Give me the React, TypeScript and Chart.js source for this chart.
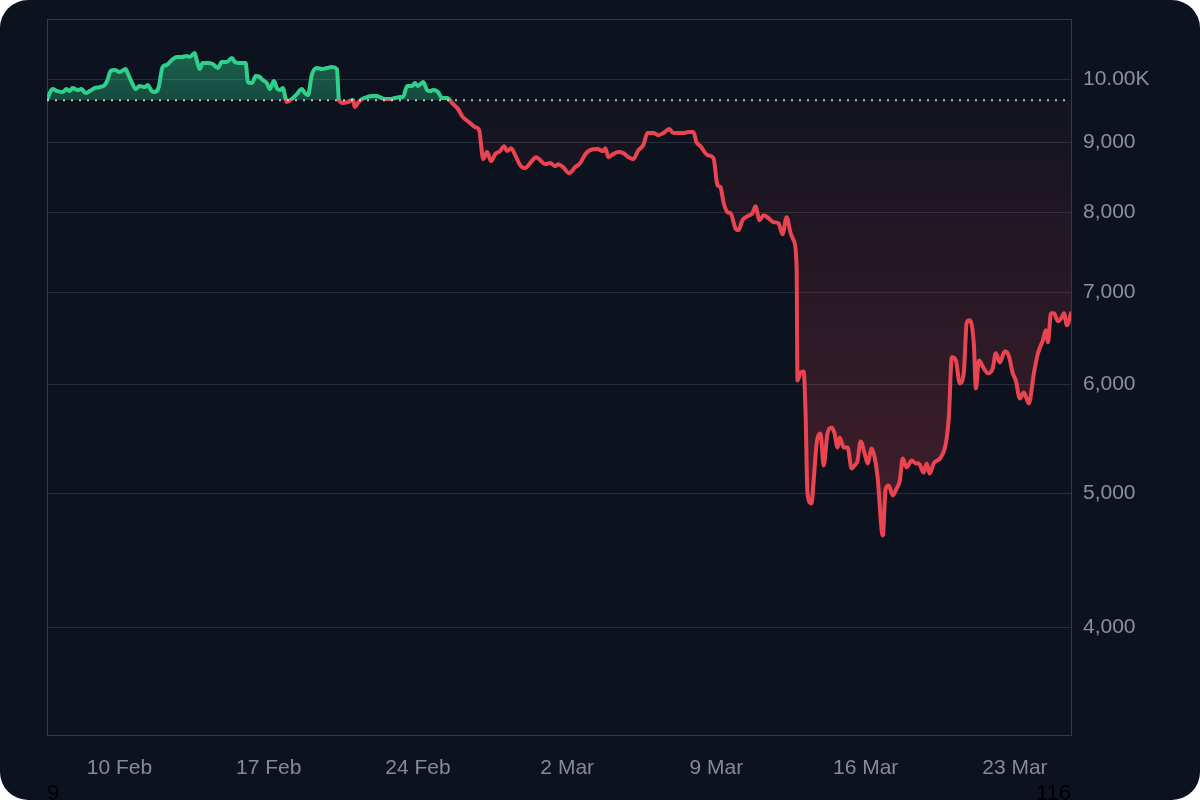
import { useEffect, useRef } from 'react';
import { Chart, registerables } from 'chart.js';

// Register Chart.js components
Chart.register(...registerables);

// time in days (day of February, 1 Mar = 30)
const times = [
  6.60, 6.86, 7.09, 7.33, 7.52, 7.66, 7.80, 8.03, 8.22, 8.41,
  8.60, 8.83, 9.07, 9.30, 9.44, 9.58, 9.77, 10.01, 10.29, 10.38,
  10.57, 10.76, 10.94, 11.18, 11.32, 11.51, 11.65, 11.84, 12.02, 12.21,
  12.45, 12.68, 12.92, 13.15, 13.29, 13.53, 13.62, 13.76, 13.90, 14.14,
  14.37, 14.61, 14.80, 15.03, 15.27, 15.41, 15.64, 15.92, 16.02, 16.21,
  16.39, 16.58, 16.72, 16.91, 17.05, 17.24, 17.38, 17.52, 17.66, 17.85,
  18.08, 18.32, 18.55, 18.70, 18.84, 19.02, 19.26, 19.49, 19.73, 19.96,
  20.20, 20.29, 20.48, 20.71, 20.95, 21.04, 21.18, 21.37, 21.61, 21.84,
  22.08, 22.22, 22.45, 22.69, 22.92, 23.16, 23.30, 23.49, 23.72, 23.86,
  24.00, 24.24, 24.43, 24.57, 24.71, 24.94, 25.13, 25.37, 25.60, 25.88,
  26.07, 26.26, 26.45, 26.68, 26.87, 27.06, 27.24, 27.43, 27.62, 27.85,
  28.04, 28.18, 28.37, 28.56, 28.79, 29.03, 29.26, 29.54, 29.73, 29.97,
  30.20, 30.44, 30.58, 30.81, 31.09, 31.38, 31.61, 31.85, 32.08, 32.41,
  32.69, 32.79, 32.93, 33.16, 33.40, 33.63, 33.87, 34.10, 34.34, 34.57,
  34.76, 35.04, 35.28, 35.51, 35.79, 35.98, 36.22, 36.45, 36.68, 36.92,
  37.06, 37.25, 37.58, 37.86, 38.05, 38.19, 38.33, 38.52, 38.66, 38.89,
  39.03, 39.22, 39.46, 39.69, 39.83, 40.02, 40.21, 40.44, 40.68, 40.91,
  41.10, 41.29, 41.48, 41.62, 41.76, 41.80, 41.95, 42.09, 42.18, 42.27,
  42.46, 42.56, 42.70, 42.88, 43.03, 43.21, 43.40, 43.54, 43.68, 43.78,
  43.97, 44.15, 44.34, 44.48, 44.62, 44.76, 44.95, 45.09, 45.28, 45.42,
  45.56, 45.80, 45.94, 46.08, 46.27, 46.45, 46.60, 46.74, 46.92, 47.16,
  47.35, 47.49, 47.72, 47.86, 48.00, 48.19, 48.52, 48.76, 48.90, 49.04,
  49.23, 49.41, 49.60, 49.74, 49.88, 50.07, 50.17, 50.31, 50.54, 50.73,
  50.96, 51.10, 51.29, 51.53, 51.72, 51.90, 52.04, 52.23, 52.42, 52.65,
  52.89, 53.08, 53.31, 53.45, 53.55, 53.69, 53.83, 54.02, 54.20, 54.30,
  54.44, 54.63,
];

const prices = [
  9666, 9834, 9801, 9785, 9834, 9801, 9851, 9817, 9834, 9768,
  9801, 9851, 9867, 9900, 9983, 10135, 10152, 10118, 10169, 10101,
  9950, 9834, 9884, 9867, 9900, 9801, 9785, 9867, 10203, 10237,
  10323, 10375, 10375, 10392, 10375, 10445, 10323, 10169, 10271, 10271,
  10254, 10186, 10289, 10289, 10358, 10289, 10271, 10271, 9950, 9933,
  10050, 10034, 9983, 9933, 9834, 9967, 9851, 9817, 9851, 9623,
  9671, 9752, 9834, 9768, 9736, 10067, 10186, 10169, 10186, 10203,
  10169, 9655, 9607, 9623, 9655, 9543, 9607, 9671, 9703, 9719,
  9719, 9703, 9671, 9671, 9687, 9703, 9703, 9884, 9884, 9933,
  9884, 9950, 9817, 9801, 9817, 9785, 9687, 9687, 9607, 9511,
  9400, 9337, 9290, 9228, 9182, 8747, 8850, 8718, 8820, 8865,
  8939, 8865, 8909, 8806, 8660, 8616, 8689, 8776, 8732, 8674,
  8689, 8645, 8674, 8631, 8544, 8631, 8689, 8820, 8880, 8895,
  8865, 8909, 8776, 8820, 8850, 8835, 8776, 8747, 8880, 8954,
  9136, 9136, 9105, 9136, 9197, 9136, 9136, 9136, 9151, 9151,
  8999, 8939, 8806, 8762, 8374, 8346, 8139, 8004, 7991, 7793,
  7767, 7898, 7951, 7991, 8085, 7898, 7964, 7924, 7872, 7858,
  7715, 7938, 7728, 7638, 7301, 6042, 6124, 6134, 5718, 5001,
  4918, 5111, 5438, 5530, 5241, 5530, 5585, 5530, 5401, 5493,
  5401, 5401, 5215, 5241, 5285, 5456, 5348, 5259, 5392, 5312,
  5137, 4662, 5043, 5069, 4985, 5043, 5111, 5303, 5224, 5285,
  5259, 5259, 5180, 5259, 5171, 5259, 5312, 5438, 5680, 6280,
  6248, 6012, 6114, 6658, 6681, 6428, 5962, 6248, 6165, 6114,
  6165, 6322, 6227, 6343, 6290, 6114, 6042, 5863, 5922, 5814,
  6114, 6322, 6461, 6570, 6439, 6759, 6759, 6670, 6714, 6759,
  6625, 6759,
];

const baseline = 9650;

const dayTicks = [10, 17, 24, 31, 38, 45, 52];
const dayLabels = ['10 Feb', '17 Feb', '24 Feb', '2 Mar', '9 Mar', '16 Mar', '23 Mar'];

const priceTicks = [4000, 5000, 6000, 7000, 8000, 9000, 10000];
const priceLabels = ['4,000', '5,000', '6,000', '7,000', '8,000', '9,000', '10.00K'];

const indexTicks = [9, 116];

const yMin = 3340;
const yMax = 11056;

const GREEN = '#2fcf8c';
const RED = '#ea4451';
const FONT = "'Liberation Sans', Arial, sans-serif";

// box around the plot area
const frame = {
  id: 'frame',
  beforeDatasetsDraw(chart: any) {
    const { ctx, chartArea: a } = chart;
    ctx.save();
    ctx.strokeStyle = '#333b47';
    ctx.lineWidth = 1;
    ctx.strokeRect(a.left + 0.5, a.top + 0.5, a.right - a.left, a.bottom - a.top);
    ctx.restore();
  },
};

export default function App() {
  const canvasRef = useRef<HTMLCanvasElement>(null);
  const chartRef = useRef<Chart | null>(null);

  useEffect(() => {
    document.body.style.margin = '0';
    document.body.style.background = '#ffffff';
    if (!canvasRef.current) return;
    if (chartRef.current) chartRef.current.destroy();

    const points = times.map((t, i) => ({ x: t, y: prices[i] }));
    const first = times[0];
    const last = times[times.length - 1];

    const chart = new Chart(canvasRef.current, {
      type: 'line',
      data: {
        datasets: [
          {
            data: [
              { x: first, y: baseline },
              { x: last, y: baseline },
            ],
            borderColor: 'rgba(225,229,235,0.8)',
            borderWidth: 2,
            borderDash: [2, 6],
            pointRadius: 0,
            fill: false,
            order: 0,
          },
          {
            data: points,
            borderColor: GREEN,
            borderWidth: 4,
            borderJoinStyle: 'round',
            borderCapStyle: 'round',
            cubicInterpolationMode: 'monotone',
            pointRadius: 0,
            fill: { value: baseline },
            order: 1,
          },
        ],
      },
      options: {
        responsive: false,
        animation: false,
        layout: { padding: { left: 47, top: 19, right: 0, bottom: 0 } },
        plugins: {
          legend: { display: false },
          tooltip: { enabled: false },
        },
        scales: {
          x: {
            type: 'linear',
            position: 'bottom',
            min: first,
            max: last,
            weight: 0,
            grid: { display: false, drawTicks: false },
            border: { display: false },
            afterBuildTicks: (s: any) => {
              s.ticks = dayTicks.map((v) => ({ value: v }));
            },
            afterFit: (s: any) => {
              s.height = 45;
            },
            ticks: {
              autoSkip: false,
              maxRotation: 0,
              padding: 21,
              color: '#838b98',
              font: { family: FONT, size: 21 },
              callback: (v: any) => dayLabels[dayTicks.indexOf(Number(v))] ?? '',
            },
          },
          x2: {
            type: 'linear',
            position: 'bottom',
            min: indexTicks[0],
            max: indexTicks[indexTicks.length - 1],
            weight: 1,
            grid: { display: false, drawTicks: false },
            border: { display: false },
            afterBuildTicks: (s: any) => {
              s.ticks = indexTicks.map((v) => ({ value: v }));
            },
            afterFit: (s: any) => {
              s.height = 20;
            },
            ticks: {
              autoSkip: false,
              maxRotation: 0,
              padding: 1,
              align: 'inner',
              color: '#000000',
              font: { family: FONT, size: 22 },
              callback: (v: any) => String(v),
            },
          },
          y: {
            type: 'logarithmic',
            position: 'right',
            min: yMin,
            max: yMax,
            grid: { color: '#252e3a', drawTicks: false },
            border: { display: false },
            afterBuildTicks: (s: any) => {
              s.ticks = priceTicks.map((v) => ({ value: v }));
            },
            afterFit: (s: any) => {
              s.width = 129;
              s.paddingTop = 0;
              s.paddingBottom = 0;
            },
            ticks: {
              padding: 12,
              color: '#8a919e',
              font: { family: FONT, size: 21 },
              callback: (v: any) => priceLabels[priceTicks.indexOf(Number(v))] ?? '',
            },
          },
        },
      },
      plugins: [frame],
    });

    // gradients need the laid-out chart area
    const { chartArea: a, scales, ctx } = chart;
    const by = scales.y.getPixelForValue(baseline);
    const stop = Math.min(1, Math.max(0, (by - a.top) / (a.bottom - a.top)));
    const lineGrad = ctx.createLinearGradient(0, a.top, 0, a.bottom);
    lineGrad.addColorStop(0, GREEN);
    lineGrad.addColorStop(stop, GREEN);
    lineGrad.addColorStop(stop, RED);
    lineGrad.addColorStop(1, RED);

    const topY = scales.y.getPixelForValue(Math.max(...prices));
    const aboveGrad = ctx.createLinearGradient(0, topY, 0, by);
    aboveGrad.addColorStop(0, 'rgba(47,207,140,0.42)');
    aboveGrad.addColorStop(1, 'rgba(47,207,140,0.30)');

    const lowY = scales.y.getPixelForValue(Math.min(...prices));
    const belowGrad = ctx.createLinearGradient(0, by, 0, lowY);
    belowGrad.addColorStop(0, 'rgba(234,68,81,0.03)');
    belowGrad.addColorStop(1, 'rgba(234,68,81,0.25)');

    const ds: any = chart.data.datasets[1];
    ds.borderColor = lineGrad;
    ds.fill = { value: baseline, above: aboveGrad, below: belowGrad };
    chart.update();

    chartRef.current = chart;

    return () => {
      if (chartRef.current) {
        chartRef.current.destroy();
        chartRef.current = null;
      }
    };
  }, []);

  return (
    <div
      style={{
        width: 1200,
        height: 800,
        background: '#0c131f',
        borderRadius: 28,
        overflow: 'hidden',
      }}
    >
      <canvas ref={canvasRef} width={1200} height={800} style={{ display: 'block' }}></canvas>
    </div>
  );
}
